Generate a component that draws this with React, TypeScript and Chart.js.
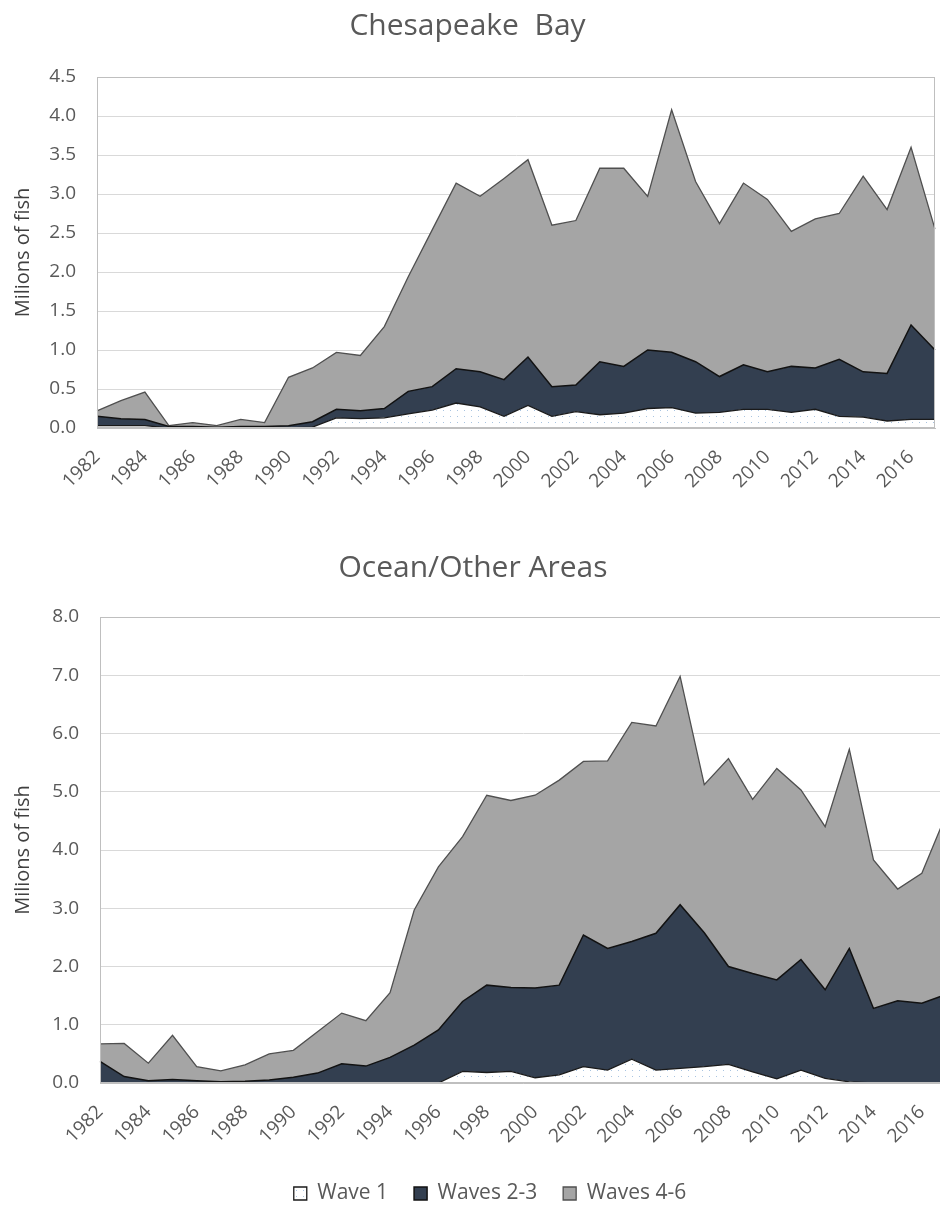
import React, { useEffect, useRef } from 'react';
import { Chart, registerables } from 'chart.js';

Chart.register(...registerables);

const years = [
  '1982', '1983', '1984', '1985', '1986', '1987', '1988', '1989', '1990', '1991',
  '1992', '1993', '1994', '1995', '1996', '1997', '1998', '1999', '2000', '2001',
  '2002', '2003', '2004', '2005', '2006', '2007', '2008', '2009', '2010', '2011',
  '2012', '2013', '2014', '2015', '2016', '2017',
];

const seriesNames = ['Wave 1', 'Waves 2-3', 'Waves 4-6'];

// Chesapeake Bay (millions of fish)
const bayWave1 = [
  0.03, 0.03, 0.03, 0, 0, 0, 0, 0, 0, 0.01,
  0.13, 0.12, 0.13, 0.18, 0.23, 0.32, 0.27, 0.15, 0.29, 0.15,
  0.21, 0.17, 0.19, 0.25, 0.26, 0.19, 0.2, 0.24, 0.24, 0.2,
  0.24, 0.15, 0.14, 0.09, 0.11, 0.11,
];
const bayWaves23 = [
  0.12, 0.09, 0.08, 0.02, 0.02, 0.01, 0.02, 0.02, 0.03, 0.07,
  0.11, 0.10, 0.12, 0.29, 0.30, 0.44, 0.45, 0.47, 0.62, 0.38,
  0.34, 0.68, 0.60, 0.75, 0.71, 0.66, 0.46, 0.57, 0.48, 0.59,
  0.53, 0.73, 0.58, 0.61, 1.21, 0.89,
];
const bayWaves46 = [
  0.07, 0.23, 0.35, 0.01, 0.05, 0.02, 0.09, 0.05, 0.62, 0.69,
  0.73, 0.71, 1.05, 1.47, 2.01, 2.38, 2.25, 2.58, 2.53, 2.07,
  2.11, 2.48, 2.54, 1.97, 3.11, 2.31, 1.96, 2.33, 2.21, 1.73,
  1.91, 1.87, 2.51, 2.10, 2.28, 1.55,
];

// Ocean/Other Areas (millions of fish)
const oceanWave1 = [
  0, 0, 0, 0, 0, 0, 0, 0, 0, 0,
  0, 0, 0, 0, 0, 0.2, 0.18, 0.2, 0.09, 0.14,
  0.28, 0.22, 0.41, 0.22, 0.25, 0.28, 0.32, 0.19, 0.07, 0.22,
  0.08, 0.02, 0, 0, 0, 0,
];
const oceanWaves23 = [
  0.37, 0.11, 0.04, 0.06, 0.04, 0.02, 0.03, 0.05, 0.10, 0.17,
  0.33, 0.29, 0.44, 0.65, 0.91, 1.20, 1.50, 1.44, 1.54, 1.54,
  2.26, 2.09, 2.02, 2.35, 2.81, 2.30, 1.68, 1.69, 1.70, 1.90,
  1.52, 2.29, 1.28, 1.41, 1.37, 1.52,
];
const oceanWaves46 = [
  0.30, 0.57, 0.30, 0.76, 0.24, 0.19, 0.28, 0.45, 0.46, 0.71,
  0.87, 0.78, 1.11, 2.32, 2.80, 2.83, 3.26, 3.21, 3.31, 3.52,
  2.98, 3.22, 3.76, 3.56, 3.92, 2.54, 3.57, 2.99, 3.63, 2.91,
  2.80, 3.42, 2.55, 1.92, 2.23, 3.08,
];

const FONT = "'Open Sans', 'Noto Sans', sans-serif";

function makeDotPattern(): CanvasPattern | string {
  const c = document.createElement('canvas');
  c.width = 7;
  c.height = 6;
  const g = c.getContext('2d');
  if (!g) return '#ffffff';
  g.fillStyle = '#ffffff';
  g.fillRect(0, 0, 7, 6);
  g.fillStyle = '#a9c4e0';
  g.fillRect(2, 2, 1, 1);
  const p = g.createPattern(c, 'repeat');
  return p || '#ffffff';
}

const framePlugin = {
  id: 'plotFrame',
  afterDatasetsDraw(chart: any) {
    const { ctx, chartArea: a } = chart;
    ctx.save();
    ctx.strokeStyle = '#bfbfbf';
    ctx.lineWidth = 1;
    ctx.strokeRect(a.left + 0.5, a.top + 0.5, a.right - a.left - 1, a.bottom - a.top - 1);
    ctx.restore();
  },
};

type PanelProps = {
  title: string;
  w1: number[];
  w23: number[];
  w46: number[];
  yMax: number;
  yStep: number;
  width: number;
  height: number;
  yAxisWidth: number;
  xAxisHeight: number;
  rightPad: number;
  titlePadTop: number;
  showLegend: boolean;
  legendShiftX: number;
  legendShiftY: number;
};

function Panel(props: PanelProps) {
  const ref = useRef<HTMLCanvasElement | null>(null);
  useEffect(() => {
    if (!ref.current) return;
    const pattern = makeDotPattern();
    const titleFont = 30;
    const titleH = titleFont * 1.2;
    const chartTop = 77;
    const shiftPlugin = {
      id: 'legendShift',
      afterLayout(chart: any) {
        if (chart.legend && props.showLegend) {
          chart.legend.left += props.legendShiftX;
          chart.legend.right += props.legendShiftX;
          chart.legend.top += props.legendShiftY;
          chart.legend.bottom += props.legendShiftY;
        }
      },
    };
    const chart = new Chart(ref.current, {
      type: 'line',
      data: {
        labels: years,
        datasets: [
          {
            label: seriesNames[0],
            data: props.w1,
            backgroundColor: pattern as any,
            borderColor: '#1a1a1a',
            borderWidth: 1.3,
            fill: 'origin',
            pointRadius: 0,
            tension: 0,
          },
          {
            label: seriesNames[1],
            data: props.w23,
            backgroundColor: '#333F50',
            borderColor: '#121212',
            borderWidth: 1.5,
            fill: '-1',
            pointRadius: 0,
            tension: 0,
          },
          {
            label: seriesNames[2],
            data: props.w46,
            backgroundColor: '#A5A5A5',
            borderColor: '#505050',
            borderWidth: 1.3,
            fill: '-1',
            pointRadius: 0,
            tension: 0,
          },
        ],
      },
      options: {
        responsive: false,
        animation: false,
        layout: { padding: { left: 0, right: props.rightPad, top: 0, bottom: 0 } },
        plugins: {
          title: {
            display: true,
            text: props.title,
            color: '#595959',
            font: { family: FONT, size: titleFont, weight: 'normal' },
            padding: { top: props.titlePadTop, bottom: chartTop - titleH - props.titlePadTop },
          },
          legend: {
            display: props.showLegend,
            position: 'bottom',
            labels: {
              color: '#595959',
              font: { family: FONT, size: 21 },
              boxWidth: 13,
              boxHeight: 13,
              padding: 26,
            },
          },
          tooltip: { enabled: false },
        },
        scales: {
          x: {
            type: 'category',
            offset: false,
            grid: { display: false, drawTicks: false },
            border: { display: true, color: '#bfbfbf' },
            ticks: {
              color: '#595959',
              font: { family: FONT, size: 19 },
              maxRotation: 45,
              minRotation: 45,
              autoSkip: false,
              padding: 18,
              callback: (_v: any, i: number) => (i % 2 === 0 ? years[i] : ''),
            },
            afterFit: (s: any) => {
              s.height = props.xAxisHeight;
              s.paddingRight = 0;
              s.paddingLeft = 0;
            },
          },
          y: {
            stacked: true,
            min: 0,
            max: props.yMax,
            grid: { color: '#d9d9d9', drawTicks: false },
            border: { display: true, color: '#bfbfbf' },
            ticks: {
              stepSize: props.yStep,
              color: '#595959',
              font: { family: FONT, size: 19 },
              padding: 21,
              callback: (v: any) => Number(v).toFixed(1),
            },
            title: {
              display: true,
              text: 'Milions of fish',
              color: '#404040',
              font: { family: FONT, size: 20 },
              padding: { top: 11, bottom: 0 },
            },
            afterFit: (s: any) => {
              s.width = props.yAxisWidth;
            },
          },
        },
      } as any,
      plugins: [framePlugin, shiftPlugin],
    });
    return () => chart.destroy();
  }, []);
  return <canvas ref={ref} width={props.width} height={props.height} style={{ display: 'block' }} />;
}

export default function App() {
  return (
    <div
      style={{
        position: 'absolute',
        left: 0,
        top: 0,
        width: 940,
        height: 1211,
        overflow: 'hidden',
        background: '#ffffff',
      }}
    >
      <div style={{ position: 'absolute', left: 0, top: 0 }}>
        <Panel
          title="Chesapeake  Bay"
          w1={bayWave1}
          w23={bayWaves23}
          w46={bayWaves46}
          yMax={4.5}
          yStep={0.5}
          width={940}
          height={540}
          yAxisWidth={97}
          xAxisHeight={112}
          rightPad={5}
          titlePadTop={8}
          showLegend={false}
          legendShiftX={0}
          legendShiftY={0}
        />
      </div>
      <div style={{ position: 'absolute', left: 0, top: 540 }}>
        <Panel
          title="Ocean/Other Areas"
          w1={oceanWave1}
          w23={oceanWaves23}
          w46={oceanWaves46}
          yMax={8}
          yStep={1}
          width={960}
          height={671}
          yAxisWidth={100}
          xAxisHeight={71}
          rightPad={14}
          titlePadTop={10}
          showLegend={true}
          legendShiftX={17}
          legendShiftY={3}
        />
      </div>
    </div>
  );
}
